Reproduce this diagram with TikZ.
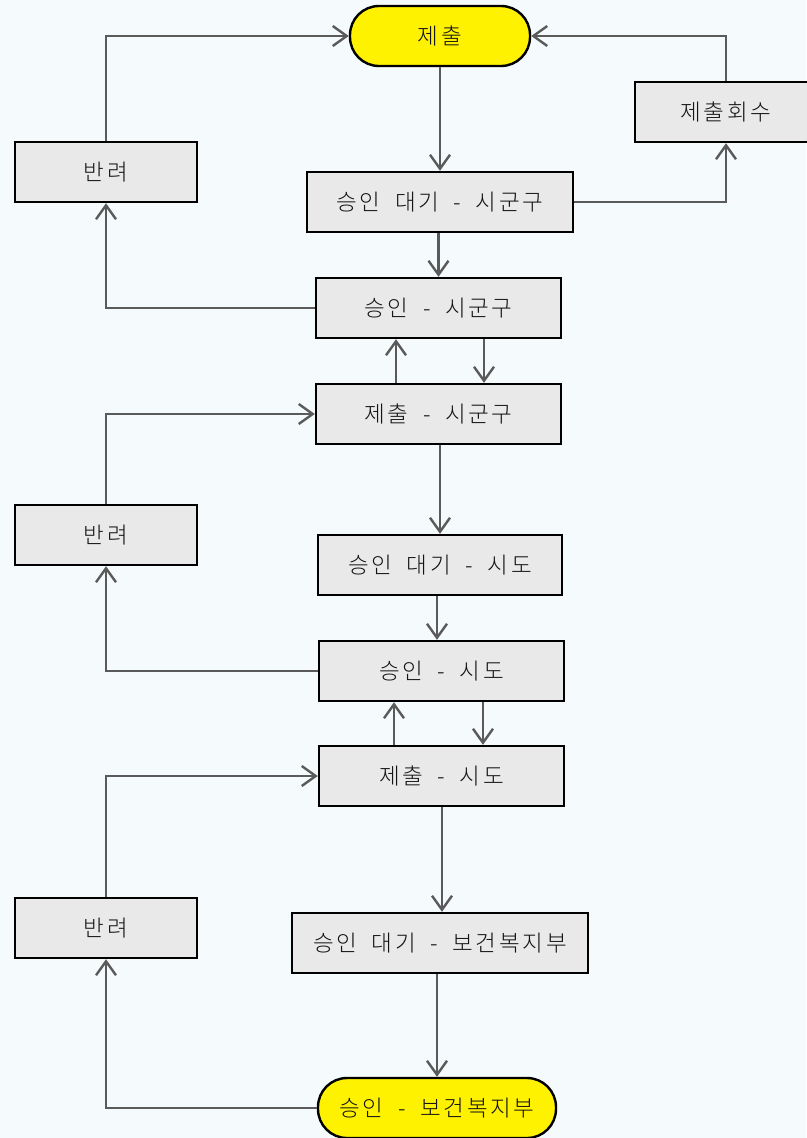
\documentclass[tikz,border=0pt]{standalone}
\usepackage{fontspec}
\setmainfont{Noto Sans CJK KR}
\newfontfamily\boxfont[LetterSpace=12,WordSpace=1.9]{Noto Sans CJK KR Light}
\usetikzlibrary{arrows.meta}
\definecolor{bgc}{HTML}{F5FAFD}
\definecolor{boxc}{HTML}{E9E9E9}
\definecolor{linec}{HTML}{5A5A5A}
\definecolor{txtc}{HTML}{141414}
\begin{document}
\begin{tikzpicture}[x=1pt,y=-1pt,
  box/.style={draw=black,line width=2.4pt,fill=boxc,minimum height=60pt,inner sep=0pt,font=\boxfont\fontsize{22.5pt}{26pt}\selectfont,text=txtc},
  pill/.style={box,fill=yellow,rounded corners=29pt},
  conn/.style={draw=linec,line width=2.4pt,-{Straight Barb[length=14pt,width=20pt]}}]
\useasboundingbox[fill=bgc] (0,0) rectangle (806,1138);
% nodes
\node[pill,minimum width=180pt] (sub) at (440,36) {제출};
\node[box,minimum width=182pt] (wd) at (726,112) {제출회수};
\node[box,minimum width=182pt] (rj1) at (106,172) {반려};
\node[box,minimum width=266pt] (w1) at (440,202) {승인 대기 - 시군구};
\node[box,minimum width=245pt] (a1) at (438.5,308) {승인 - 시군구};
\node[box,minimum width=245pt] (s1) at (438.5,414) {제출 - 시군구};
\node[box,minimum width=182pt] (rj2) at (106,535) {반려};
\node[box,minimum width=244pt] (w2) at (440,565) {승인 대기 - 시도};
\node[box,minimum width=245pt] (a2) at (441.5,671) {승인 - 시도};
\node[box,minimum width=245pt] (s2) at (441.5,776) {제출 - 시도};
\node[box,minimum width=182pt] (rj3) at (106,928) {반려};
\node[box,minimum width=296pt] (w3) at (440,943) {승인 대기 - 보건복지부};
\node[pill,minimum width=238pt] (a3) at (437,1108) {승인 - 보건복지부};
% connectors
\draw[conn] (sub.south) -- (w1.north);
\draw[conn] (w1.east) -| (wd.south);
\draw[conn] (wd.north) |- (sub.east);
\draw[conn] (rj1.north) |- (sub.west);
\draw[conn] (w1.south -| a1.north) -- (a1.north);
\draw[conn] (a1.west) -| (rj1.south);
\draw[conn] (s1.north -| 396,0) -- (a1.south -| 396,0);
\draw[conn] (a1.south -| 484,0) -- (s1.north -| 484,0);
\draw[conn] (rj2.north) |- (s1.west);
\draw[conn] (s1.south -| w2.north) -- (w2.north);
\draw[conn] (w2.south -| 437,0) -- (a2.north -| 437,0);
\draw[conn] (a2.west) -| (rj2.south);
\draw[conn] (s2.north -| 394,0) -- (a2.south -| 394,0);
\draw[conn] (a2.south -| 483,0) -- (s2.north -| 483,0);
\draw[conn] (rj3.north) |- (s2.west);
\draw[conn] (s2.south -| 442,0) -- (w3.north -| 442,0);
\draw[conn] (w3.south -| 437,0) -- (a3.north -| 437,0);
\draw[conn] (a3.west) -| (rj3.south);
\end{tikzpicture}
\end{document}
